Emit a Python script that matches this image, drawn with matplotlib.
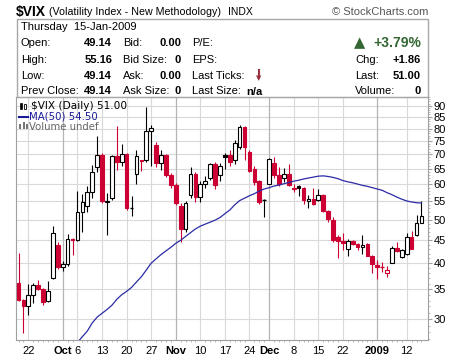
import numpy as np
import pandas as pd
import matplotlib
matplotlib.use('Agg')
import matplotlib.pyplot as plt
from matplotlib.patches import Rectangle

# trading days shown on the chart
holidays = ['2008-11-27', '2008-12-25', '2009-01-01']
dates = [d for d in pd.bdate_range('2008-09-18', '2009-01-15') if d.strftime('%Y-%m-%d') not in holidays]

prev_close_first = 36.22

opens = [36.2, 33.1, 32.1, 34.0, 35.7, 35.0, 32.9, 37.0, 43.9, 39.3,
         39.8, 45.3, 45.1, 52.0, 53.7, 57.6, 65.6, 69.9, 54.9, 56.0,
         69.3, 67.5, 70.3, 53.0, 63.2, 68.0, 67.9, 79.1, 73.6, 66.9,
         69.9, 62.9, 59.9, 53.8, 47.7, 56.9, 63.3, 56.3, 60.0, 62.0,
         66.5, 62.9, 69.9, 69.9, 68.2, 72.7, 80.6, 71.0, 64.9, 61.0,
         55.2, 60.2, 66.9, 62.9, 62.0, 63.2, 58.9, 59.6, 58.9, 55.0,
         55.6, 55.5, 56.9, 52.2, 50.0, 45.8, 44.9, 43.1, 44.9, 44.2,
         43.5, 44.2, 41.6, 39.6, 39.25, 38.0, 40.1, 43.3, 41.3, 42.0,
         45.8, 46.3, 49.14]
highs = [42.2, 33.3, 36.0, 36.2, 36.6, 35.2, 36.5, 48.4, 44.5, 40.5,
         46.5, 45.6, 57.9, 57.0, 59.5, 66.2, 76.9, 70.5, 57.5, 69.8,
         81.2, 73.9, 70.5, 56.4, 71.5, 68.2, 89.5, 81.3, 74.5, 71.5,
         70.3, 63.5, 60.5, 54.5, 55.0, 65.6, 63.8, 61.0, 62.5, 67.0,
         67.5, 67.0, 70.5, 71.5, 75.3, 81.5, 81.0, 71.5, 66.0, 61.5,
         55.6, 68.8, 69.0, 65.5, 65.3, 66.5, 60.0, 59.8, 59.2, 56.9,
         58.9, 58.6, 57.2, 52.5, 50.8, 46.2, 46.7, 45.2, 45.1, 44.3,
         46.3, 44.4, 41.8, 40.6, 40.2, 39.4, 43.8, 44.6, 43.0, 46.6,
         47.1, 51.2, 55.16]
lows = [33.0, 27.9, 30.6, 32.6, 34.8, 32.3, 32.8, 36.8, 38.8, 38.5,
        39.5, 41.7, 44.8, 47.0, 52.0, 56.0, 64.0, 54.5, 46.3, 55.5,
        64.5, 66.0, 52.5, 50.9, 60.0, 64.2, 67.5, 66.0, 65.5, 64.5,
        62.2, 59.0, 54.0, 44.5, 47.0, 56.0, 54.7, 54.7, 59.0, 61.5,
        58.5, 61.0, 65.0, 66.0, 66.5, 72.0, 68.2, 64.0, 59.8, 54.3,
        50.6, 60.0, 62.0, 59.5, 60.6, 59.5, 57.6, 56.4, 54.2, 53.1,
        54.0, 55.0, 52.0, 49.5, 44.6, 41.1, 42.8, 41.6, 43.9, 42.9,
        42.0, 41.4, 38.0, 36.8, 38.3, 37.3, 40.0, 42.4, 41.0, 41.8,
        43.0, 46.0, 49.14]
closes = [33.1, 32.0, 33.9, 35.7, 35.0, 32.8, 34.7, 46.6, 39.3, 39.8,
          45.3, 45.1, 52.0, 54.8, 57.6, 63.9, 69.9, 55.0, 55.1, 69.3,
          67.5, 70.3, 53.0, 53.1, 69.6, 67.6, 79.1, 80.1, 66.9, 69.9,
          62.9, 59.9, 54.5, 47.7, 54.5, 63.3, 56.1, 60.0, 61.1, 66.5,
          59.8, 66.1, 69.1, 67.4, 74.3, 80.8, 72.7, 64.3, 60.9, 54.7,
          55.3, 68.5, 62.9, 60.2, 63.2, 59.8, 58.6, 58.9, 55.4, 55.6,
          54.2, 56.9, 52.2, 50.1, 45.1, 44.8, 44.4, 44.9, 44.2, 43.5,
          43.9, 41.6, 39.9, 39.2, 39.15, 38.6, 43.3, 42.6, 42.8, 45.8,
          43.1, 49.14, 51.0]
# 50-day moving average, starts on Oct 6
ma50 = [None] * 12 + [
    26.6, 27.4, 28.2, 29.4, 30.3, 30.9, 31.5, 32.2, 33.2, 34.0,
    34.6, 35.3, 36.3, 37.3, 38.6, 40.0, 40.9, 41.8, 42.6, 43.4,
    44.3, 45.0, 45.9, 46.8, 47.7, 48.4, 48.9, 49.4, 49.9, 50.6,
    51.6, 52.6, 54.0, 55.2, 55.9, 56.6, 57.2, 58.0, 58.6, 59.0,
    59.5, 59.8, 60.2, 60.6, 61.0, 61.3, 61.7, 62.0, 62.3, 62.6,
    62.7, 62.5, 62.2, 61.8, 61.2, 60.8, 60.5, 60.1, 59.7, 59.4,
    59.0, 58.6, 58.2, 57.5, 56.9, 56.2, 55.6, 55.1, 54.8, 54.6,
    54.5]

week_ticks = ['2008-09-22', '2008-10-06', '2008-10-13', '2008-10-20', '2008-10-27',
              '2008-11-10', '2008-11-17', '2008-11-24', '2008-12-08', '2008-12-15',
              '2008-12-22', '2009-01-12']
week_labels = ['22', '6', '13', '20', '27', '10', '17', '24', '8', '15', '22', '12']
month_ticks = ['2008-10-01', '2008-11-03', '2008-12-01', '2009-01-02']
month_labels = ['Oct', 'Nov', 'Dec', '2009']
y_ticks = [30, 35, 40, 45, 50, 55, 60, 65, 70, 75, 80, 85, 90]

RED = '#cc0033'
W, H = 460, 357
fig = plt.figure(figsize=(W / 100, H / 100), dpi=100)
FONT = 'Liberation Sans'


def ftext(x, y, s, **kw):
    kw.setdefault('va', 'center')
    kw.setdefault('family', FONT)
    kw.setdefault('fontsize', 8)
    fig.text(x / W, 1 - y / H, s, **kw)


# header
ftext(16, 12, '$VIX', fontsize=10, weight='bold')
ftext(49, 12, '(Volatility Index - New Methodology)', fontsize=7.7)
ftext(228, 12, 'INDX', fontsize=7.5)
ftext(428, 12, '\u00a9 StockCharts.com', fontsize=8, ha='right', color='#555555')

# quote box
fig.patches.append(Rectangle((16.5 / W, 1 - 97 / H), 411.5 / W, 78 / H, transform=fig.transFigure,
                             fill=False, edgecolor='#a8a8a8', linewidth=1))
ftext(21, 27, 'Thursday  15-Jan-2009')
rows_y = [43.5, 60, 76, 91.5]
left_lbl = ['Open:', 'High:', 'Low:', 'Prev Close:']
left_val = ['49.14', '55.16', '49.14', '49.14']
mid_lbl = ['Bid:', 'Bid Size:', 'Ask:', 'Ask Size:']
mid_val = ['0.00', '0', '0.00', '0']
r_lbl = ['P/E:', 'EPS:', 'Last Ticks:', 'Last Size:']
far_lbl = ['', 'Chg:', 'Last:', 'Volume:']
far_val = ['', '+1.86', '51.00', '0']
for k, yy in enumerate(rows_y):
    ftext(21, yy, left_lbl[k])
    ftext(112, yy, left_val[k], ha='right', weight='bold')
    ftext(123, yy, mid_lbl[k])
    ftext(181, yy, mid_val[k], ha='right', weight='bold')
    ftext(192, yy, r_lbl[k])
    if far_lbl[k]:
        ftext(355, yy, far_lbl[k])
        ftext(421, yy, far_val[k], ha='right', weight='bold')
ftext(246, 92, 'n/a', weight='bold')
ftext(354, 43, '\u25b2', fontsize=10.5, color='#336633', family='DejaVu Sans')
ftext(421, 43, '+3.79%', ha='right', weight='bold', fontsize=10, color='#336633')
fig.add_artist(plt.Line2D([259 / W, 259 / W], [1 - 70 / H, 1 - 78 / H], color='#993344', lw=1.5))
ftext(259, 78, '\u25bc', fontsize=5, color='#993344', ha='center', family='DejaVu Sans')

# price panel
ax = fig.add_axes([16 / W, 1 - 340 / H, 412 / W, 243 / H])
ax.set_yscale('log')
ax.set_ylim(26.93, 94.1)
ax.set_xlim(-0.51, 83.33)

x = np.arange(len(dates))
date_str = [d.strftime('%Y-%m-%d') for d in dates]
week_pos = [date_str.index(d) for d in week_ticks]
month_pos = [date_str.index(d) for d in month_ticks]

for yv in y_ticks:
    ax.axhline(yv, color='#d9d9d9', lw=0.8, zorder=0)
for p in week_pos:
    ax.axvline(p, color='#d9d9d9', lw=0.8, zorder=0)
for p in month_pos:
    ax.axvline(p, color='#b4b4b4', lw=0.9, zorder=0)

prev = [prev_close_first] + closes[:-1]
for i in x:
    o, h, l, c = opens[i], highs[i], lows[i], closes[i]
    col = RED if c < prev[i] else 'black'
    ax.vlines(i, l, h, color=col, lw=0.8, zorder=2)
    lo, hi = min(o, c), max(o, c)
    if hi - lo < 0.15:
        ax.hlines(c, i - 0.38, i + 0.38, color=col, lw=1.0, zorder=3)
        continue
    face = 'white' if c > o else col
    ax.bar(i, hi - lo, bottom=lo, width=0.75, facecolor=face, edgecolor=col, lw=0.8, zorder=3)

ma_x = [i for i in x if ma50[i] is not None]
ma_y = [ma50[i] for i in ma_x]
ax.plot(ma_x, ma_y, color='#2b2ba6', lw=0.9, zorder=4)

# axes styling
for s in ax.spines.values():
    s.set_color('#a0a0a0')
ax.yaxis.tick_right()
ax.set_yticks(y_ticks)
ax.set_yticklabels([str(v) for v in y_ticks], family=FONT, fontsize=8)
ax.yaxis.set_minor_locator(matplotlib.ticker.FixedLocator(range(27, 95)))
ax.yaxis.set_minor_formatter(matplotlib.ticker.NullFormatter())
ax.tick_params(axis='y', which='major', length=3, color='#a0a0a0', pad=1)
ax.tick_params(axis='y', which='minor', length=1.5, color='#b0b0b0')

ax.set_xticks(week_pos + month_pos)
ax.set_xticklabels(week_labels + month_labels, family=FONT, fontsize=8)
for lbl in ax.get_xticklabels()[len(week_pos):]:
    lbl.set_fontweight('bold')
ax.set_xticks(x, minor=True)
ax.tick_params(axis='x', which='major', length=0, pad=4)
ax.tick_params(axis='x', which='minor', length=1.5, color='#b0b0b0')

# legend text inside panel
ax.text(0.037, 0.963, '$VIX (Daily) 51.00', transform=ax.transAxes, family='DejaVu Sans',
        fontsize=7.6, va='center')
ax.text(0.032, 0.918, 'MA(50) 54.50', transform=ax.transAxes, family='DejaVu Sans',
        fontsize=7.3, va='center', color='#1a1a99')
ax.text(0.032, 0.877, 'Volume undef', transform=ax.transAxes, family='DejaVu Sans',
        fontsize=7.3, va='center', color='#666666')
ax.plot([0.008, 0.03], [0.918, 0.918], transform=ax.transAxes, color='#1a1a99', lw=1.5)
for k, hgt in enumerate([0.02, 0.03, 0.022]):
    ax.add_patch(Rectangle((0.008 + k * 0.008, 0.867), 0.005, hgt, transform=ax.transAxes,
                           facecolor='#777777', edgecolor='none'))
ax.add_patch(Rectangle((0.009, 0.952), 0.006, 0.024, transform=ax.transAxes,
                       facecolor='black', edgecolor='black', lw=0.5))
ax.add_patch(Rectangle((0.019, 0.950), 0.006, 0.02, transform=ax.transAxes,
                       facecolor='white', edgecolor='black', lw=0.6))

fig.savefig('out.png', dpi=100)
